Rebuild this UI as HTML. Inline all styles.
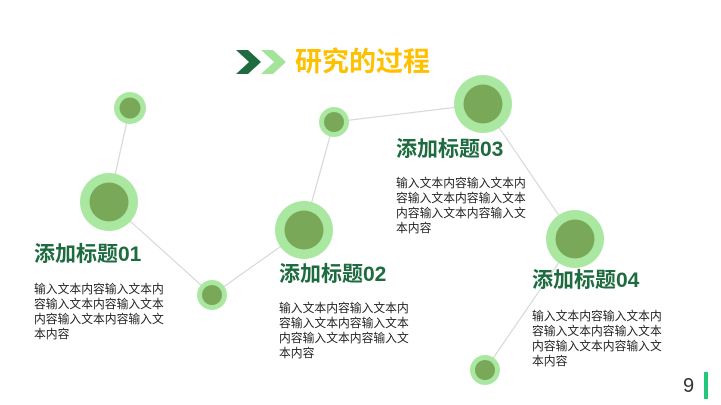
<!DOCTYPE html>
<html><head><meta charset="utf-8"><style>
body{margin:0;width:721px;height:405px;background:#fff;position:relative;overflow:hidden;font-family:"Liberation Sans","Noto Sans CJK SC",sans-serif}
.h{position:absolute;font-size:21px;font-weight:bold;color:#1d6b3f;white-space:nowrap;line-height:24px}
.b{position:absolute;font-size:11.8px;line-height:15px;color:#222;white-space:nowrap}
</style></head><body>
<svg width="721" height="405" style="position:absolute;left:0;top:0">
<g stroke="#d8d8d8" stroke-width="1.2" fill="none">
<polyline points="130,108 109,202 212,295 304,230 334,122 483,104 575,239 485,370"/>
</g>
<g fill="#aae8a2">
<circle cx="130" cy="108" r="16"/><circle cx="109" cy="202" r="29"/><circle cx="212" cy="295" r="15"/>
<circle cx="304" cy="230" r="29"/><circle cx="334" cy="122" r="15"/><circle cx="483" cy="104" r="29"/>
<circle cx="575" cy="239" r="29"/><circle cx="485" cy="370" r="15"/>
</g>
<g fill="#78a858">
<circle cx="130" cy="108" r="10.5"/><circle cx="109" cy="202" r="19.5"/><circle cx="212" cy="295" r="10"/>
<circle cx="304" cy="230" r="19.5"/><circle cx="334" cy="122" r="10"/><circle cx="483" cy="104" r="19.5"/>
<circle cx="575" cy="239" r="19.5"/><circle cx="485" cy="370" r="10"/>
</g>
<polygon points="236,50 248,50 261,62 248,74 236,74 249,62" fill="#1d6b3f"/>
<polygon points="261,50 273,50 286,62 273,74 261,74 274,62" fill="#a4e49a"/>
<rect x="704" y="372" width="4" height="27" fill="#22c87a"/>
</svg>
<div style="position:absolute;left:295px;top:46px;font-size:27px;font-weight:bold;color:#ffc000;line-height:32px;white-space:nowrap">研究的过程</div>
<div style="position:absolute;left:683px;top:374px;font-size:20px;color:#333;line-height:24px">9</div>
<div class="h" style="left:34px;top:243px">添加标题01</div>
<div class="b" style="left:34px;top:282px">输入文本内容输入文本内<br>容输入文本内容输入文本<br>内容输入文本内容输入文<br>本内容</div>
<div class="h" style="left:279px;top:263px">添加标题02</div>
<div class="b" style="left:279px;top:301px">输入文本内容输入文本内<br>容输入文本内容输入文本<br>内容输入文本内容输入文<br>本内容</div>
<div class="h" style="left:396px;top:138px">添加标题03</div>
<div class="b" style="left:396px;top:176px">输入文本内容输入文本内<br>容输入文本内容输入文本<br>内容输入文本内容输入文<br>本内容</div>
<div class="h" style="left:532px;top:269px">添加标题04</div>
<div class="b" style="left:532px;top:309px">输入文本内容输入文本内<br>容输入文本内容输入文本<br>内容输入文本内容输入文<br>本内容</div>
</body></html>
